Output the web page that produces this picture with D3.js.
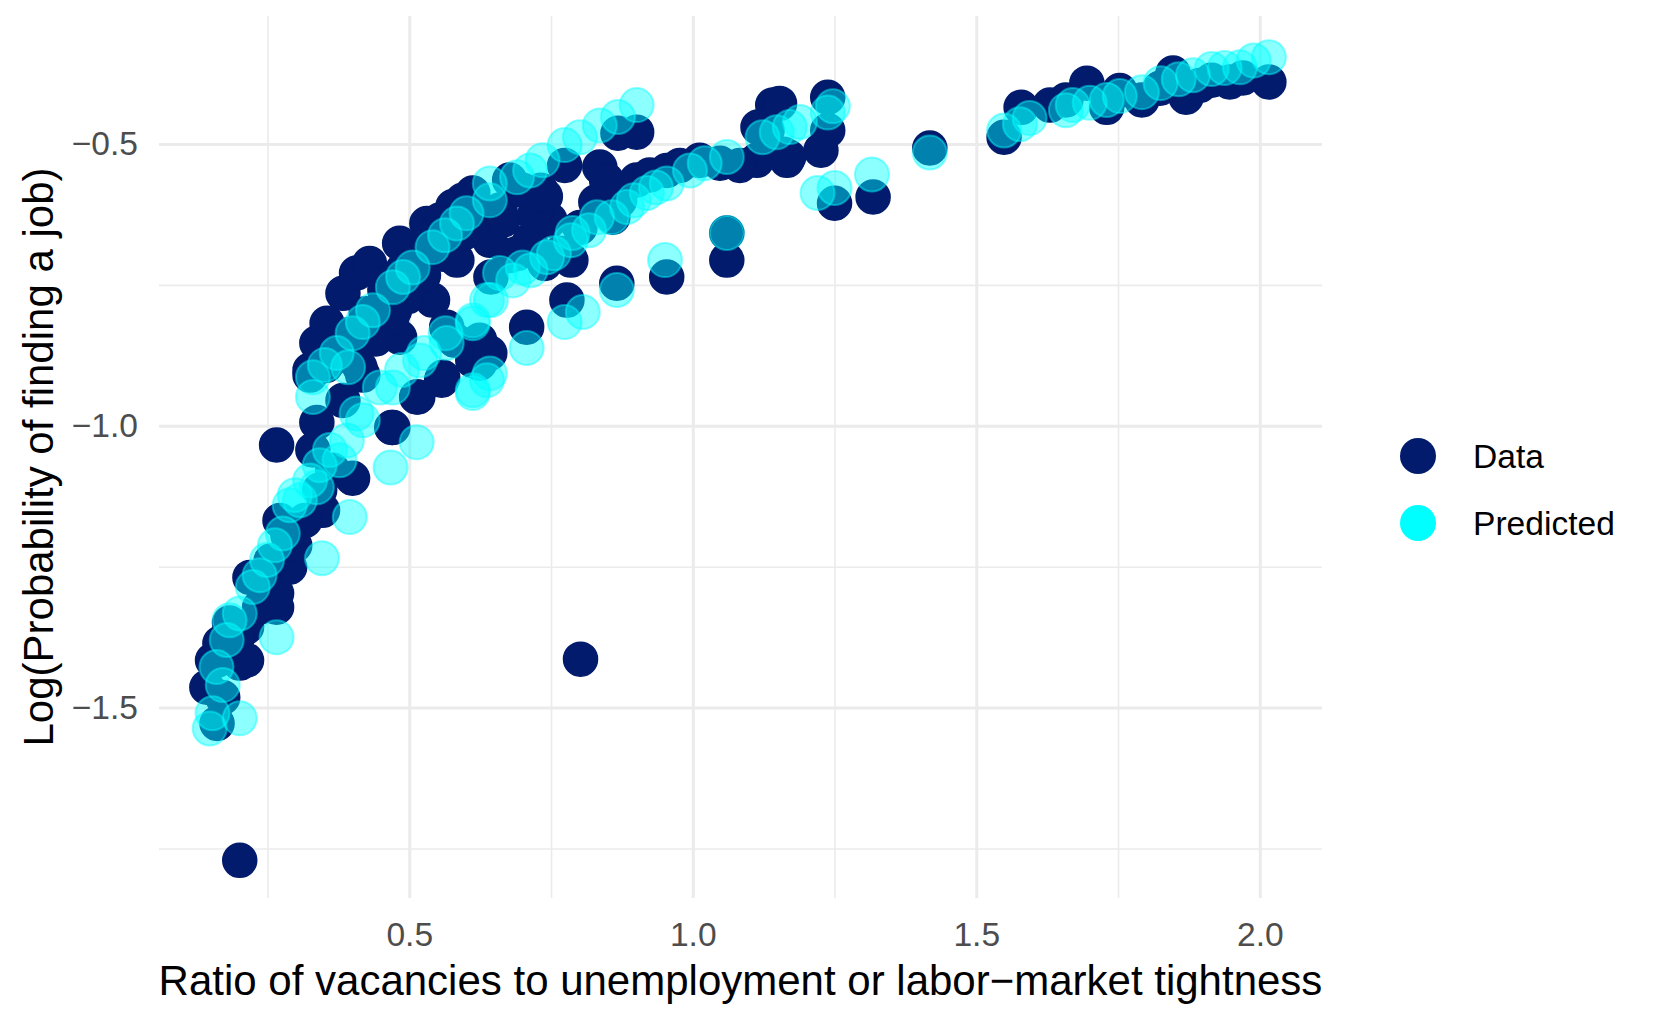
<!DOCTYPE html>
<html>
<head>
<meta charset="utf-8">
<script src="https://cdn.jsdelivr.net/npm/d3@7"></script>
<style>
  body { margin: 0; background: #ffffff; }
  svg { font-family: "Liberation Sans", Arial, Helvetica, sans-serif; }
</style>
</head>
<body>
<script>

// observed values: [tightness, log probability]
var dataPoints = [
    [0.201, -1.771], [0.161, -1.528], [0.171, -1.482], [0.143, -1.464], [0.153, -1.416],
    [0.201, -1.421], [0.166, -1.386], [0.213, -1.357], [0.266, -1.322], [0.183, -1.350],
    [0.213, -1.416], [0.161, -1.416], [0.201, -1.368], [0.236, -1.322], [0.266, -1.297],
    [0.219, -1.269], [0.289, -1.251], [0.347, -1.150], [0.272, -1.168], [0.400, -1.093],
    [0.330, -1.043], [0.337, -0.994], [0.266, -1.034], [0.383, -0.955], [0.469, -1.003],
    [0.515, -0.949], [0.325, -0.910], [0.418, -0.910], [0.559, -0.914], [0.624, -0.889],
    [0.298, -1.212], [0.316, -1.168], [0.342, -1.114], [0.365, -1.079],
    [0.286, -1.194], [0.256, -1.240], [0.241, -1.269],
    [0.325, -0.901], [0.337, -0.853], [0.355, -0.818], [0.383, -0.765], [0.407, -0.729],
    [0.430, -0.712], [0.483, -0.676], [0.531, -0.641], [0.554, -0.635], [0.594, -0.600],
    [0.612, -0.587], [0.642, -0.671], [0.584, -0.706], [0.519, -0.742], [0.541, -0.777],
    [0.443, -0.843], [0.483, -0.843], [0.413, -0.896], [0.566, -0.825], [0.624, -0.848],
    [0.612, -0.884], [0.457, -0.759], [0.501, -0.711], [0.474, -0.795], [0.571, -0.671],
    [0.395, -0.857], [0.365, -0.880], [0.607, -0.626], [0.660, -0.617], [0.677, -0.564],
    [0.563, -0.696], [0.525, -0.733], [0.497, -0.771], [0.469, -0.809], [0.441, -0.846],
    [0.577, -0.611], [0.557, -0.640], [0.536, -0.667], [0.510, -0.696], [0.488, -0.724],
    [0.466, -0.743], [0.424, -0.801], [0.398, -0.837], [0.376, -0.865], [0.353, -0.893],
    [0.612, -0.600], [0.596, -0.658], [0.644, -0.736], [0.700, -0.582], [0.732, -0.582],
    [0.691, -0.694], [0.739, -0.712], [0.785, -0.706], [0.748, -0.635], [0.774, -0.538],
    [0.836, -0.541], [0.829, -0.603], [0.868, -0.481], [0.901, -0.479], [0.859, -0.630],
    [0.801, -0.648], [0.765, -0.694], [0.901, -0.564], [0.954, -0.547], [1.012, -0.529],
    [1.048, -0.534], [1.113, -0.529], [1.166, -0.529], [1.131, -0.476], [1.141, -0.431],
    [1.060, -0.706], [1.060, -0.658], [0.954, -0.736], [0.866, -0.747], [0.778, -0.777],
    [0.707, -0.825], [0.642, -0.871], [0.580, -0.848], [0.557, -0.919], [0.513, -0.949],
    [0.471, -1.003], [0.802, -1.414], [0.924, -0.555], [0.977, -0.538], [1.083, -0.538],
    [0.713, -0.671], [0.677, -0.698], [0.871, -0.600],
    [0.665, -0.635], [0.721, -0.626], [0.740, -0.593], [0.848, -0.564],
    [1.115, -0.470], [1.160, -0.518], [1.153, -0.428], [1.238, -0.417], [1.238, -0.476],
    [1.226, -0.511], [1.169, -0.523], [1.250, -0.605], [1.318, -0.594], [1.418, -0.507],
    [1.549, -0.488], [1.579, -0.435], [1.658, -0.422], [1.695, -0.392], [1.730, -0.435],
    [1.792, -0.422], [1.847, -0.374], [1.870, -0.417], [1.915, -0.387], [1.970, -0.383],
    [2.016, -0.390], [1.630, -0.431], [1.753, -0.405], [1.824, -0.401], [1.894, -0.396],
    [1.947, -0.390]
];

// model predictions
var predictedPoints = [
    [2.016, -0.346], [1.989, -0.352], [1.965, -0.364], [1.915, -0.367], [1.882, -0.378],
    [1.857, -0.385], [1.825, -0.392], [1.792, -0.408], [1.730, -0.422], [1.670, -0.431],
    [1.658, -0.440], [1.577, -0.465], [1.549, -0.476], [1.418, -0.515], [1.316, -0.554],
    [1.250, -0.578], [1.220, -0.587], [1.238, -0.444], [1.171, -0.470], [1.938, -0.365],
    [1.753, -0.415], [1.700, -0.427], [1.594, -0.454], [1.189, -0.461], [1.247, -0.433],
    [1.148, -0.479], [1.123, -0.488], [1.060, -0.523], [1.060, -0.658], [0.951, -0.706],
    [0.995, -0.547], [1.021, -0.534], [0.954, -0.570], [0.935, -0.577], [0.919, -0.587],
    [0.896, -0.600], [0.884, -0.612], [0.857, -0.630], [0.831, -0.630], [0.817, -0.653],
    [0.788, -0.658], [0.785, -0.671], [0.755, -0.694], [0.743, -0.701], [0.714, -0.724],
    [0.700, -0.719], [0.683, -0.742], [0.644, -0.777], [0.612, -0.813], [0.564, -0.836],
    [0.526, -0.871], [0.487, -0.901], [0.448, -0.932], [0.407, -0.978],
    [0.519, -0.884], [0.566, -0.853], [0.612, -0.818], [0.637, -0.777], [0.660, -0.729],
    [0.866, -0.759], [0.806, -0.798], [0.774, -0.816], [0.707, -0.862], [0.642, -0.907],
    [0.612, -0.942], [0.513, -1.029], [0.467, -1.074], [0.471, -0.932], [0.612, -0.937],
    [0.637, -0.919], [0.418, -0.990], [0.390, -1.026], [0.377, -1.061], [0.337, -1.109],
    [0.395, -1.162], [0.346, -1.235], [0.266, -1.375], [0.330, -0.949],
    [0.901, -0.431], [0.868, -0.452], [0.836, -0.467], [0.774, -0.502], [0.735, -0.529],
    [0.690, -0.559], [0.642, -0.600], [0.642, -0.570], [0.601, -0.623], [0.584, -0.641],
    [0.541, -0.683], [0.506, -0.719], [0.471, -0.754], [0.436, -0.795], [0.400, -0.836],
    [0.372, -0.871], [0.330, -0.914], [0.392, -0.896], [0.713, -0.547], [0.801, -0.488],
    [0.563, -0.662], [0.489, -0.736], [0.418, -0.816], [0.351, -0.892],
    [0.307, -1.132], [0.325, -1.097], [0.342, -1.070], [0.360, -1.043], [0.277, -1.191],
    [0.289, -1.141], [0.298, -1.123], [0.263, -1.212], [0.236, -1.265],
    [0.249, -1.238], [0.224, -1.286], [0.201, -1.333], [0.178, -1.380], [0.160, -1.428],
    [0.183, -1.345], [0.171, -1.460], [0.201, -1.519], [0.148, -1.537], [0.153, -1.510]
];

var xMajor = [0.5, 1.0, 1.5, 2.0];
var xMinor = [0.25, 0.75, 1.25, 1.75];
var yMajor = [-0.5, -1.0, -1.5];
var yMinor = [-0.75, -1.25, -1.75];

var seriesNames = ["Data", "Predicted"];
var seriesColors = ["#021b6c", "#00ffff"];

var width = 1661, height = 1023;
var panel = {left: 159, right: 1322, top: 16, bottom: 898};

var x = d3.scaleLinear().domain([0.0586, 2.1097]).range([panel.left, panel.right]);
var y = d3.scaleLinear().domain([-1.8378, -0.2729]).range([panel.bottom, panel.top]);

var svg = d3.select("body").append("svg")
    .attr("width", width)
    .attr("height", height);

var gridColor = "#ebebeb";

// minor grid lines
svg.append("g")
    .attr("transform", "translate(0," + panel.bottom + ")")
    .call(d3.axisBottom(x).tickValues(xMinor).tickSize(-(panel.bottom - panel.top)).tickFormat(""))
    .call(function(g) { g.select(".domain").remove(); })
    .selectAll("line").attr("stroke", gridColor).attr("stroke-width", 1.6);

svg.append("g")
    .attr("transform", "translate(" + panel.left + ",0)")
    .call(d3.axisLeft(y).tickValues(yMinor).tickSize(-(panel.right - panel.left)).tickFormat(""))
    .call(function(g) { g.select(".domain").remove(); })
    .selectAll("line").attr("stroke", gridColor).attr("stroke-width", 1.6);

// major grid lines
svg.append("g")
    .attr("transform", "translate(0," + panel.bottom + ")")
    .call(d3.axisBottom(x).tickValues(xMajor).tickSize(-(panel.bottom - panel.top)).tickFormat(""))
    .call(function(g) { g.select(".domain").remove(); })
    .selectAll("line").attr("stroke", gridColor).attr("stroke-width", 3);

svg.append("g")
    .attr("transform", "translate(" + panel.left + ",0)")
    .call(d3.axisLeft(y).tickValues(yMajor).tickSize(-(panel.right - panel.left)).tickFormat(""))
    .call(function(g) { g.select(".domain").remove(); })
    .selectAll("line").attr("stroke", gridColor).attr("stroke-width", 3);

// tick labels
var xAxis = svg.append("g")
    .attr("transform", "translate(0," + panel.bottom + ")")
    .call(d3.axisBottom(x).tickValues(xMajor).tickSize(0).tickPadding(24).tickFormat(d3.format(".1f")));
xAxis.select(".domain").remove();
xAxis.selectAll("text")
    .attr("fill", "#4d4d4d")
    .style("font-size", "33.6px");

var yAxis = svg.append("g")
    .attr("transform", "translate(" + panel.left + ",0)")
    .call(d3.axisLeft(y).tickValues(yMajor).tickSize(0).tickPadding(21).tickFormat(d3.format(".1f")));
yAxis.select(".domain").remove();
yAxis.selectAll("text")
    .attr("fill", "#4d4d4d")
    .style("font-size", "33.6px");

var r = 17;

// observed points
svg.append("g").selectAll("circle")
    .data(dataPoints)
    .enter().append("circle")
    .attr("cx", function(d) { return x(d[0]); })
    .attr("cy", function(d) { return y(d[1]); })
    .attr("r", r)
    .attr("fill", seriesColors[0])
    .attr("stroke", seriesColors[0])
    .attr("stroke-width", 1.5);

// predicted points, semi transparent on top
svg.append("g").selectAll("circle")
    .data(predictedPoints)
    .enter().append("circle")
    .attr("cx", function(d) { return x(d[0]); })
    .attr("cy", function(d) { return y(d[1]); })
    .attr("r", r)
    .attr("fill", seriesColors[1])
    .attr("fill-opacity", 0.45)
    .attr("stroke", seriesColors[1])
    .attr("stroke-opacity", 0.45)
    .attr("stroke-width", 2);

// axis titles
svg.append("text")
    .attr("x", (panel.left + panel.right) / 2)
    .attr("y", 995)
    .attr("text-anchor", "middle")
    .style("font-size", "42px")
    .attr("fill", "#000")
    .text("Ratio of vacancies to unemployment or labor\u2212market tightness");

svg.append("text")
    .attr("transform", "translate(53," + (panel.top + panel.bottom) / 2 + ") rotate(-90)")
    .attr("text-anchor", "middle")
    .style("font-size", "42px")
    .attr("fill", "#000")
    .text("Log(Probability of finding a job)");

// legend
var legend = svg.append("g").attr("transform", "translate(1418,456)");
seriesNames.forEach(function(name, i) {
    var row = legend.append("g").attr("transform", "translate(0," + (i * 67) + ")");
    row.append("circle")
        .attr("r", 18)
        .attr("fill", seriesColors[i]);
    row.append("text")
        .attr("x", 55)
        .attr("dy", "0.35em")
        .style("font-size", "33.6px")
        .attr("fill", "#000")
        .text(name);
});

</script>
</body>
</html>
